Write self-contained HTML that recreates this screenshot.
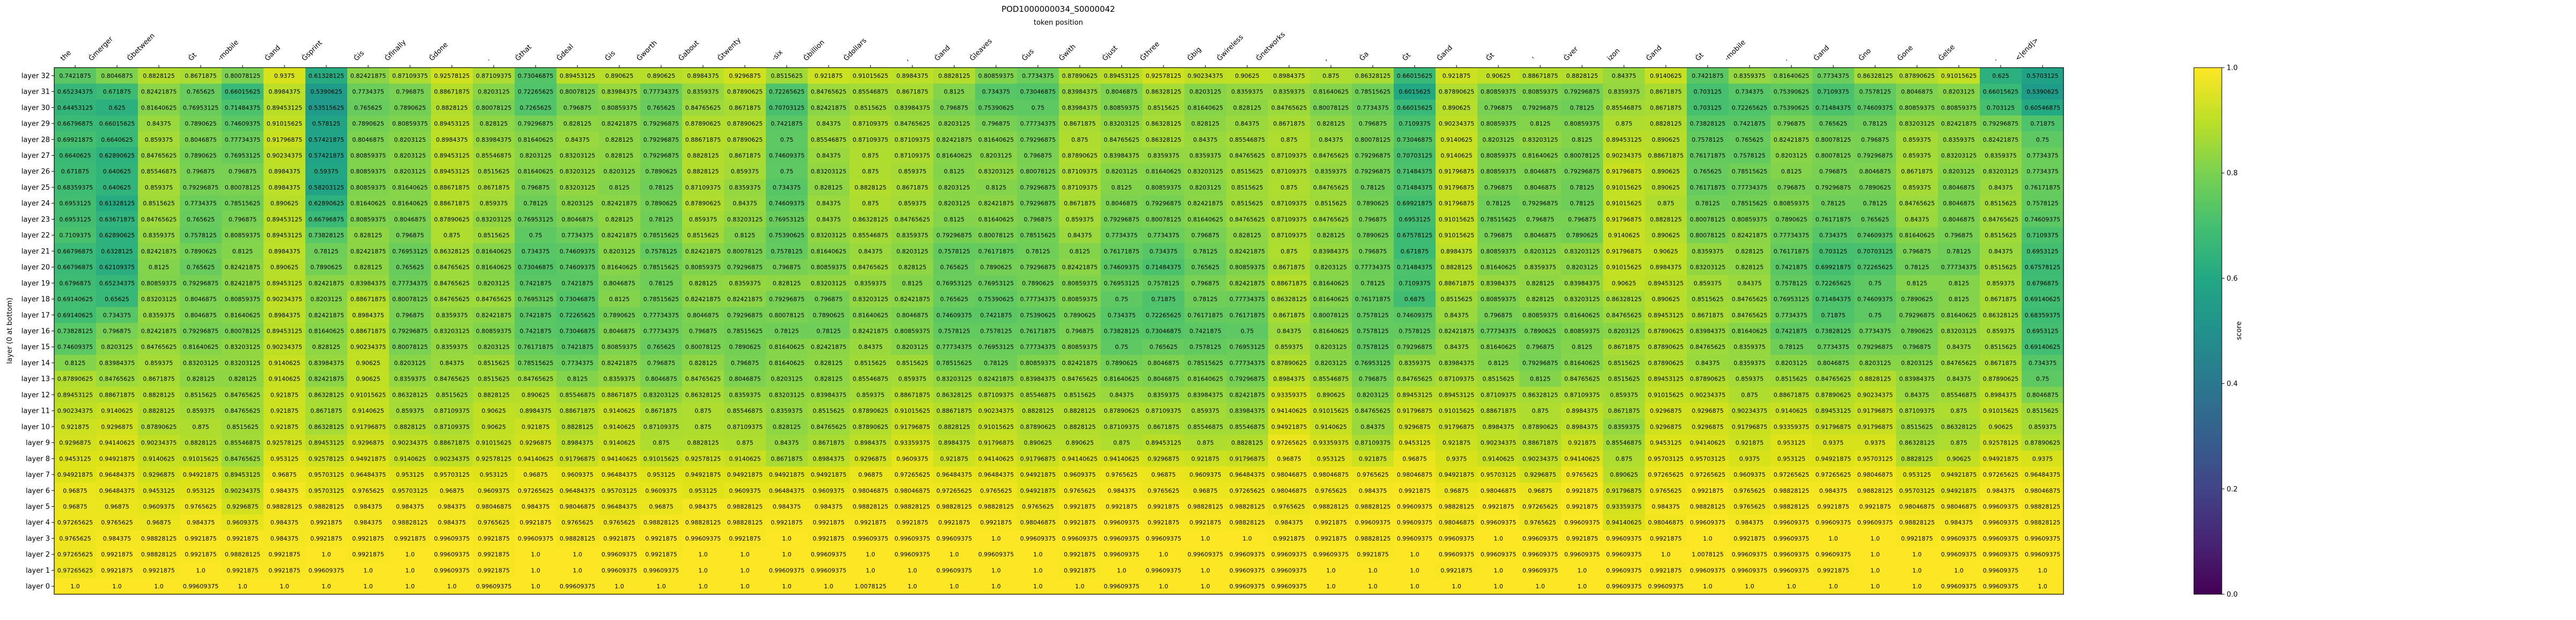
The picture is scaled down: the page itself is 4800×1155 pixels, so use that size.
<!DOCTYPE html>
<html><head><meta charset="utf-8">
<style>
html,body{margin:0;padding:0;background:#fff;}
svg{display:block;font-family:"DejaVu Sans","Liberation Sans",sans-serif;}
</style></head>
<body>
<svg id="chart" width="4800" height="1155" viewBox="0 0 4800 1155" xmlns="http://www.w3.org/2000/svg">
  <text x="1972" y="22" text-anchor="middle" font-size="15">POD1000000034_S0000042</text>
  <text x="1972" y="46" text-anchor="middle" font-size="13">token position</text>
  <text transform="translate(22,616) rotate(-90)" text-anchor="middle" font-size="13">layer (0 at bottom)</text>
  <g id="cells"></g>
  <g id="xlabels"></g>
  <g id="ylabels"></g>
  <rect x="101" y="126" width="3744" height="981" fill="none" stroke="#000" stroke-width="1.2"/>
  <defs>
    <linearGradient id="vir" x1="0" y1="1" x2="0" y2="0">
      <stop offset="0" stop-color="#440154"/><stop offset="0.1" stop-color="#482475"/>
      <stop offset="0.2" stop-color="#414487"/><stop offset="0.3" stop-color="#355f8d"/>
      <stop offset="0.4" stop-color="#2a788e"/><stop offset="0.5" stop-color="#21918c"/>
      <stop offset="0.6" stop-color="#22a884"/><stop offset="0.7" stop-color="#44bf70"/>
      <stop offset="0.8" stop-color="#7ad151"/><stop offset="0.9" stop-color="#bddf26"/>
      <stop offset="1" stop-color="#fde725"/>
    </linearGradient>
  </defs>
  <rect x="4088" y="126" width="52" height="981" fill="url(#vir)" stroke="#000" stroke-width="1"/>
  <g id="cbticks"></g>
  <text transform="translate(4176,616) rotate(-90)" text-anchor="middle" font-size="13">score</text>
</svg>
<script>
const tokens = ["the","Ġmerger","Ġbetween","Ġt","-mobile","Ġand","Ġsprint","Ġis","Ġfinally","Ġdone",".","Ġthat",
"Ġdeal","Ġis","Ġworth","Ġabout","Ġtwenty","-six","Ġbillion","Ġdollars",",","Ġand","Ġleaves","Ġus",
"Ġwith","Ġjust","Ġthree","Ġbig","Ġwireless","Ġnetworks",",","Ġa","Ġt","Ġand","Ġt","'",
"Ġver","izon","Ġand","Ġt","-mobile",".","Ġand","Ġno","Ġone","Ġelse",".","<|end|>"];
const layers = ["layer 32","layer 31","layer 30","layer 29","layer 28","layer 27","layer 26","layer 25","layer 24","layer 23","layer 22","layer 21","layer 20","layer 19","layer 18","layer 17","layer 16","layer 15","layer 14","layer 13","layer 12","layer 11","layer 10","layer 9","layer 8","layer 7","layer 6","layer 5","layer 4","layer 3","layer 2","layer 1","layer 0"];
const cbTickValues = [0.0,0.2,0.4,0.6,0.8,1.0];
const cbTickLabels = ["0.0","0.2","0.4","0.6","0.8","1.0"];
const rowsA = [
"0.7421875 0.8046875 0.8828125 0.8671875 0.80078125 0.9375 0.61328125 0.82421875 0.87109375 0.92578125 0.87109375 0.73046875",
"0.65234375 0.671875 0.82421875 0.765625 0.66015625 0.8984375 0.5390625 0.7734375 0.796875 0.88671875 0.8203125 0.72265625",
"0.64453125 0.625 0.81640625 0.76953125 0.71484375 0.89453125 0.53515625 0.765625 0.7890625 0.8828125 0.80078125 0.7265625",
"0.66796875 0.66015625 0.84375 0.7890625 0.74609375 0.91015625 0.578125 0.7890625 0.80859375 0.89453125 0.828125 0.79296875",
"0.69921875 0.6640625 0.859375 0.8046875 0.77734375 0.91796875 0.57421875 0.8046875 0.8203125 0.8984375 0.83984375 0.81640625",
"0.6640625 0.62890625 0.84765625 0.7890625 0.76953125 0.90234375 0.57421875 0.80859375 0.8203125 0.89453125 0.85546875 0.8203125",
"0.671875 0.640625 0.85546875 0.796875 0.796875 0.8984375 0.59375 0.80859375 0.8203125 0.89453125 0.8515625 0.81640625",
"0.68359375 0.640625 0.859375 0.79296875 0.80078125 0.8984375 0.58203125 0.80859375 0.81640625 0.88671875 0.8671875 0.796875",
"0.6953125 0.61328125 0.8515625 0.7734375 0.78515625 0.890625 0.62890625 0.81640625 0.81640625 0.88671875 0.859375 0.78125",
"0.6953125 0.63671875 0.84765625 0.765625 0.796875 0.89453125 0.66796875 0.80859375 0.8046875 0.87890625 0.83203125 0.76953125",
"0.7109375 0.62890625 0.8359375 0.7578125 0.80859375 0.89453125 0.73828125 0.828125 0.796875 0.875 0.8515625 0.75",
"0.66796875 0.6328125 0.82421875 0.7890625 0.8125 0.8984375 0.78125 0.82421875 0.76953125 0.86328125 0.81640625 0.734375",
"0.66796875 0.62109375 0.8125 0.765625 0.82421875 0.890625 0.7890625 0.828125 0.765625 0.84765625 0.81640625 0.73046875",
"0.6796875 0.65234375 0.80859375 0.79296875 0.82421875 0.89453125 0.82421875 0.83984375 0.77734375 0.84765625 0.8203125 0.7421875",
"0.69140625 0.65625 0.83203125 0.8046875 0.80859375 0.90234375 0.8203125 0.88671875 0.80078125 0.84765625 0.84765625 0.76953125",
"0.69140625 0.734375 0.8359375 0.8046875 0.81640625 0.8984375 0.82421875 0.8984375 0.796875 0.8359375 0.82421875 0.7421875",
"0.73828125 0.796875 0.82421875 0.79296875 0.80078125 0.89453125 0.81640625 0.88671875 0.79296875 0.83203125 0.80859375 0.7421875",
"0.74609375 0.8203125 0.84765625 0.81640625 0.83203125 0.90234375 0.828125 0.90234375 0.80078125 0.8359375 0.8203125 0.76171875",
"0.8125 0.83984375 0.859375 0.83203125 0.83203125 0.9140625 0.83984375 0.90625 0.8203125 0.84375 0.8515625 0.78515625",
"0.87890625 0.84765625 0.8671875 0.828125 0.828125 0.9140625 0.82421875 0.90625 0.8359375 0.84765625 0.8515625 0.84765625",
"0.89453125 0.88671875 0.8828125 0.8515625 0.84765625 0.921875 0.86328125 0.91015625 0.86328125 0.8515625 0.8828125 0.890625",
"0.90234375 0.9140625 0.8828125 0.859375 0.84765625 0.921875 0.8671875 0.9140625 0.859375 0.87109375 0.90625 0.8984375",
"0.921875 0.9296875 0.87890625 0.875 0.8515625 0.921875 0.86328125 0.91796875 0.8828125 0.87109375 0.90625 0.921875",
"0.9296875 0.94140625 0.90234375 0.8828125 0.85546875 0.92578125 0.89453125 0.9296875 0.90234375 0.88671875 0.91015625 0.9296875",
"0.9453125 0.94921875 0.9140625 0.91015625 0.84765625 0.953125 0.92578125 0.94921875 0.9140625 0.90234375 0.92578125 0.94140625",
"0.94921875 0.96484375 0.9296875 0.94921875 0.89453125 0.96875 0.95703125 0.96484375 0.953125 0.95703125 0.953125 0.96875",
"0.96875 0.96484375 0.9453125 0.953125 0.90234375 0.984375 0.95703125 0.9765625 0.95703125 0.96875 0.9609375 0.97265625",
"0.96875 0.96875 0.9609375 0.9765625 0.9296875 0.98828125 0.98828125 0.984375 0.984375 0.984375 0.98046875 0.984375",
"0.97265625 0.9765625 0.96875 0.984375 0.9609375 0.984375 0.9921875 0.984375 0.98828125 0.984375 0.9765625 0.9921875",
"0.9765625 0.984375 0.98828125 0.9921875 0.9921875 0.984375 0.9921875 0.9921875 0.9921875 0.99609375 0.9921875 0.99609375",
"0.97265625 0.9921875 0.98828125 0.9921875 0.98828125 0.9921875 1.0 0.9921875 1.0 0.99609375 0.9921875 1.0",
"0.97265625 0.9921875 0.9921875 1.0 0.9921875 0.9921875 0.99609375 1.0 1.0 0.99609375 0.9921875 1.0",
"1.0 1.0 1.0 0.99609375 1.0 1.0 1.0 1.0 1.0 1.0 0.99609375 1.0"];
const rowsB = [
"0.89453125 0.890625 0.890625 0.8984375 0.9296875 0.8515625 0.921875 0.91015625 0.8984375 0.8828125 0.80859375 0.7734375",
"0.80078125 0.83984375 0.77734375 0.8359375 0.87890625 0.72265625 0.84765625 0.85546875 0.8671875 0.8125 0.734375 0.73046875",
"0.796875 0.80859375 0.765625 0.84765625 0.8671875 0.70703125 0.82421875 0.8515625 0.83984375 0.796875 0.75390625 0.75",
"0.828125 0.82421875 0.79296875 0.87890625 0.87890625 0.7421875 0.84375 0.87109375 0.84765625 0.8203125 0.796875 0.77734375",
"0.84375 0.828125 0.79296875 0.88671875 0.87890625 0.75 0.85546875 0.87109375 0.87109375 0.82421875 0.81640625 0.79296875",
"0.83203125 0.828125 0.79296875 0.8828125 0.8671875 0.74609375 0.84375 0.875 0.87109375 0.81640625 0.8203125 0.796875",
"0.83203125 0.8203125 0.7890625 0.8828125 0.859375 0.75 0.83203125 0.875 0.859375 0.8125 0.83203125 0.80078125",
"0.83203125 0.8125 0.78125 0.87109375 0.8359375 0.734375 0.828125 0.8828125 0.8671875 0.8203125 0.8125 0.79296875",
"0.8203125 0.82421875 0.7890625 0.87890625 0.84375 0.74609375 0.84375 0.875 0.859375 0.8203125 0.82421875 0.79296875",
"0.8046875 0.828125 0.78125 0.859375 0.83203125 0.76953125 0.84375 0.86328125 0.84765625 0.8125 0.81640625 0.796875",
"0.7734375 0.82421875 0.78515625 0.8515625 0.8125 0.75390625 0.83203125 0.85546875 0.8359375 0.79296875 0.80078125 0.78515625",
"0.74609375 0.8203125 0.7578125 0.82421875 0.80078125 0.7578125 0.81640625 0.84375 0.8203125 0.7578125 0.76171875 0.78125",
"0.74609375 0.81640625 0.78515625 0.80859375 0.79296875 0.796875 0.80859375 0.84765625 0.828125 0.765625 0.7890625 0.79296875",
"0.7421875 0.8046875 0.78125 0.828125 0.8359375 0.828125 0.83203125 0.8359375 0.8125 0.76953125 0.76953125 0.7890625",
"0.73046875 0.8125 0.78515625 0.82421875 0.82421875 0.79296875 0.796875 0.83203125 0.82421875 0.765625 0.75390625 0.77734375",
"0.72265625 0.7890625 0.77734375 0.8046875 0.79296875 0.80078125 0.7890625 0.81640625 0.8046875 0.74609375 0.7421875 0.75390625",
"0.73046875 0.8046875 0.77734375 0.796875 0.78515625 0.78125 0.78125 0.82421875 0.80859375 0.7578125 0.7578125 0.76171875",
"0.7421875 0.80859375 0.765625 0.80078125 0.7890625 0.81640625 0.82421875 0.84375 0.8203125 0.77734375 0.76953125 0.77734375",
"0.7734375 0.82421875 0.796875 0.828125 0.796875 0.81640625 0.828125 0.8515625 0.8515625 0.78515625 0.78125 0.80859375",
"0.8125 0.8359375 0.8046875 0.84765625 0.8046875 0.8203125 0.828125 0.85546875 0.859375 0.83203125 0.82421875 0.83984375",
"0.85546875 0.88671875 0.83203125 0.86328125 0.8359375 0.83203125 0.83984375 0.859375 0.88671875 0.86328125 0.87109375 0.85546875",
"0.88671875 0.9140625 0.8671875 0.875 0.85546875 0.8359375 0.8515625 0.87890625 0.91015625 0.88671875 0.90234375 0.8828125",
"0.8828125 0.9140625 0.87109375 0.875 0.87109375 0.828125 0.84765625 0.87890625 0.91796875 0.8828125 0.91015625 0.87890625",
"0.8984375 0.9140625 0.875 0.8828125 0.875 0.84375 0.8671875 0.8984375 0.93359375 0.8984375 0.91796875 0.890625",
"0.91796875 0.94140625 0.91015625 0.92578125 0.9140625 0.8671875 0.8984375 0.9296875 0.9609375 0.921875 0.94140625 0.91796875",
"0.9609375 0.96484375 0.953125 0.94921875 0.94921875 0.94921875 0.94921875 0.96875 0.97265625 0.96484375 0.96484375 0.94921875",
"0.96484375 0.95703125 0.9609375 0.953125 0.9609375 0.96484375 0.9609375 0.98046875 0.98046875 0.97265625 0.9765625 0.94921875",
"0.98046875 0.96484375 0.96875 0.984375 0.98828125 0.984375 0.984375 0.98828125 0.98828125 0.98828125 0.98828125 0.9765625",
"0.9765625 0.9765625 0.98828125 0.98828125 0.98828125 0.9921875 0.9921875 0.9921875 0.9921875 0.9921875 0.9921875 0.98046875",
"0.98828125 0.9921875 0.9921875 0.99609375 0.9921875 1.0 0.9921875 0.99609375 0.99609375 0.99609375 1.0 0.99609375",
"1.0 0.99609375 0.9921875 1.0 1.0 1.0 0.99609375 1.0 0.99609375 1.0 0.99609375 1.0",
"1.0 0.99609375 0.99609375 1.0 1.0 0.99609375 0.99609375 1.0 1.0 0.99609375 1.0 1.0",
"0.99609375 1.0 1.0 1.0 1.0 1.0 1.0 1.0078125 1.0 1.0 1.0 1.0"];
const rowsC = [
"0.87890625 0.89453125 0.92578125 0.90234375 0.90625 0.8984375 0.875 0.86328125 0.66015625 0.921875 0.90625 0.88671875",
"0.83984375 0.8046875 0.86328125 0.8203125 0.8359375 0.8359375 0.81640625 0.78515625 0.6015625 0.87890625 0.80859375 0.80859375",
"0.83984375 0.80859375 0.8515625 0.81640625 0.828125 0.84765625 0.80078125 0.7734375 0.66015625 0.890625 0.796875 0.79296875",
"0.8671875 0.83203125 0.86328125 0.828125 0.84375 0.8671875 0.828125 0.796875 0.7109375 0.90234375 0.80859375 0.8125",
"0.875 0.84765625 0.86328125 0.84375 0.85546875 0.875 0.84375 0.80078125 0.73046875 0.9140625 0.8203125 0.83203125",
"0.87890625 0.83984375 0.8359375 0.8359375 0.84765625 0.87109375 0.84765625 0.79296875 0.70703125 0.9140625 0.80859375 0.81640625",
"0.87109375 0.8203125 0.81640625 0.83203125 0.8515625 0.87109375 0.8359375 0.79296875 0.71484375 0.91796875 0.80859375 0.8046875",
"0.87109375 0.8125 0.80859375 0.8203125 0.8515625 0.875 0.84765625 0.78125 0.71484375 0.91796875 0.796875 0.8046875",
"0.8671875 0.8046875 0.79296875 0.82421875 0.8515625 0.87109375 0.8515625 0.7890625 0.69921875 0.91796875 0.78125 0.79296875",
"0.859375 0.79296875 0.80078125 0.81640625 0.84765625 0.87109375 0.84765625 0.796875 0.6953125 0.91015625 0.78515625 0.796875",
"0.84375 0.7734375 0.7734375 0.796875 0.828125 0.87109375 0.828125 0.7890625 0.67578125 0.91015625 0.796875 0.8046875",
"0.8125 0.76171875 0.734375 0.78125 0.82421875 0.875 0.83984375 0.796875 0.671875 0.8984375 0.80859375 0.8203125",
"0.82421875 0.74609375 0.71484375 0.765625 0.80859375 0.8671875 0.8203125 0.77734375 0.71484375 0.8828125 0.81640625 0.8359375",
"0.80859375 0.76953125 0.7578125 0.796875 0.82421875 0.88671875 0.81640625 0.78125 0.7109375 0.88671875 0.83984375 0.828125",
"0.80859375 0.75 0.71875 0.78125 0.77734375 0.86328125 0.81640625 0.76171875 0.6875 0.8515625 0.80859375 0.828125",
"0.7890625 0.734375 0.72265625 0.76171875 0.76171875 0.8671875 0.80078125 0.7578125 0.74609375 0.84375 0.796875 0.80859375",
"0.796875 0.73828125 0.73046875 0.7421875 0.75 0.84375 0.81640625 0.7578125 0.7578125 0.82421875 0.77734375 0.7890625",
"0.80859375 0.75 0.765625 0.7578125 0.76953125 0.859375 0.8203125 0.7578125 0.79296875 0.84375 0.81640625 0.796875",
"0.82421875 0.7890625 0.8046875 0.78515625 0.77734375 0.87890625 0.8203125 0.76953125 0.8359375 0.83984375 0.8125 0.79296875",
"0.84765625 0.81640625 0.8046875 0.81640625 0.79296875 0.8984375 0.85546875 0.796875 0.84765625 0.87109375 0.8515625 0.8125",
"0.8515625 0.84375 0.8359375 0.83984375 0.82421875 0.93359375 0.890625 0.8203125 0.89453125 0.89453125 0.87109375 0.86328125",
"0.8828125 0.87890625 0.87109375 0.859375 0.83984375 0.94140625 0.91015625 0.84765625 0.91796875 0.91015625 0.88671875 0.875",
"0.8828125 0.87109375 0.8671875 0.85546875 0.85546875 0.94921875 0.9140625 0.84375 0.9296875 0.91796875 0.8984375 0.87890625",
"0.890625 0.875 0.89453125 0.875 0.8828125 0.97265625 0.93359375 0.87109375 0.9453125 0.921875 0.90234375 0.88671875",
"0.94140625 0.94140625 0.9296875 0.921875 0.91796875 0.96875 0.953125 0.921875 0.96875 0.9375 0.9140625 0.90234375",
"0.9609375 0.9765625 0.96875 0.9609375 0.96484375 0.98046875 0.98046875 0.9765625 0.98046875 0.94921875 0.95703125 0.9296875",
"0.9765625 0.984375 0.9765625 0.96875 0.97265625 0.98046875 0.9765625 0.984375 0.9921875 0.96875 0.98046875 0.96875",
"0.9921875 0.9921875 0.9921875 0.98828125 0.98828125 0.9765625 0.98828125 0.98828125 0.99609375 0.98828125 0.9921875 0.97265625",
"0.9921875 0.99609375 0.9921875 0.9921875 0.98828125 0.984375 0.9921875 0.99609375 0.99609375 0.98046875 0.99609375 0.9765625",
"0.99609375 0.99609375 0.99609375 1.0 1.0 0.9921875 0.9921875 0.98828125 0.99609375 0.99609375 1.0 0.99609375",
"0.9921875 0.99609375 1.0 0.99609375 0.99609375 0.99609375 0.99609375 0.9921875 1.0 0.99609375 0.99609375 0.99609375",
"0.9921875 1.0 0.99609375 1.0 0.99609375 0.99609375 1.0 1.0 1.0 0.9921875 1.0 0.99609375",
"1.0 0.99609375 1.0 1.0 0.99609375 0.99609375 1.0 1.0 1.0 1.0 1.0 1.0"];
const rowsD = [
"0.8828125 0.84375 0.9140625 0.7421875 0.8359375 0.81640625 0.7734375 0.86328125 0.87890625 0.91015625 0.625 0.5703125",
"0.79296875 0.8359375 0.8671875 0.703125 0.734375 0.75390625 0.7109375 0.7578125 0.8046875 0.8203125 0.66015625 0.5390625",
"0.78125 0.85546875 0.8671875 0.703125 0.72265625 0.75390625 0.71484375 0.74609375 0.80859375 0.80859375 0.703125 0.60546875",
"0.80859375 0.875 0.8828125 0.73828125 0.7421875 0.796875 0.765625 0.78125 0.83203125 0.82421875 0.79296875 0.71875",
"0.8125 0.89453125 0.890625 0.7578125 0.765625 0.82421875 0.80078125 0.796875 0.859375 0.8359375 0.82421875 0.75",
"0.80078125 0.90234375 0.88671875 0.76171875 0.7578125 0.8203125 0.80078125 0.79296875 0.859375 0.83203125 0.8359375 0.7734375",
"0.79296875 0.91796875 0.890625 0.765625 0.78515625 0.8125 0.796875 0.8046875 0.8671875 0.8203125 0.83203125 0.7734375",
"0.78125 0.91015625 0.890625 0.76171875 0.77734375 0.796875 0.79296875 0.7890625 0.859375 0.8046875 0.84375 0.76171875",
"0.78125 0.91015625 0.875 0.78125 0.78515625 0.80859375 0.78125 0.78125 0.84765625 0.8046875 0.8515625 0.7578125",
"0.796875 0.91796875 0.8828125 0.80078125 0.80859375 0.7890625 0.76171875 0.765625 0.84375 0.8046875 0.84765625 0.74609375",
"0.7890625 0.9140625 0.890625 0.80078125 0.82421875 0.77734375 0.734375 0.74609375 0.81640625 0.796875 0.8515625 0.7109375",
"0.83203125 0.91796875 0.90625 0.8359375 0.828125 0.76171875 0.703125 0.70703125 0.796875 0.78125 0.84375 0.6953125",
"0.8203125 0.91015625 0.8984375 0.83203125 0.828125 0.7421875 0.69921875 0.72265625 0.78125 0.77734375 0.8515625 0.67578125",
"0.83984375 0.90625 0.89453125 0.859375 0.84375 0.7578125 0.72265625 0.75 0.8125 0.8125 0.859375 0.6796875",
"0.83203125 0.86328125 0.890625 0.8515625 0.84765625 0.76953125 0.71484375 0.74609375 0.7890625 0.8125 0.8671875 0.69140625",
"0.81640625 0.84765625 0.89453125 0.8671875 0.84765625 0.7734375 0.71875 0.75 0.79296875 0.81640625 0.86328125 0.68359375",
"0.80859375 0.8203125 0.87890625 0.83984375 0.81640625 0.7421875 0.73828125 0.7734375 0.7890625 0.83203125 0.859375 0.6953125",
"0.8125 0.8671875 0.87890625 0.84765625 0.8359375 0.78125 0.7734375 0.79296875 0.796875 0.84375 0.8515625 0.69140625",
"0.81640625 0.8515625 0.87890625 0.84375 0.8359375 0.8203125 0.8046875 0.8203125 0.8203125 0.84765625 0.8671875 0.734375",
"0.84765625 0.8515625 0.89453125 0.87890625 0.859375 0.8515625 0.84765625 0.8828125 0.83984375 0.84375 0.87890625 0.75",
"0.87109375 0.859375 0.91015625 0.90234375 0.875 0.88671875 0.87890625 0.90234375 0.84375 0.85546875 0.8984375 0.8046875",
"0.8984375 0.8671875 0.9296875 0.9296875 0.90234375 0.9140625 0.89453125 0.91796875 0.87109375 0.875 0.91015625 0.8515625",
"0.8984375 0.8359375 0.9296875 0.9296875 0.91796875 0.93359375 0.91796875 0.91796875 0.8515625 0.86328125 0.90625 0.859375",
"0.921875 0.85546875 0.9453125 0.94140625 0.921875 0.953125 0.9375 0.9375 0.86328125 0.875 0.92578125 0.87890625",
"0.94140625 0.875 0.95703125 0.95703125 0.9375 0.953125 0.94921875 0.95703125 0.8828125 0.90625 0.94921875 0.9375",
"0.9765625 0.890625 0.97265625 0.97265625 0.9609375 0.97265625 0.97265625 0.98046875 0.953125 0.94921875 0.97265625 0.96484375",
"0.9921875 0.91796875 0.9765625 0.9921875 0.9765625 0.98828125 0.984375 0.98828125 0.95703125 0.94921875 0.984375 0.98046875",
"0.9921875 0.93359375 0.984375 0.98828125 0.9765625 0.98828125 0.9921875 0.9921875 0.98046875 0.98046875 0.99609375 0.98828125",
"0.99609375 0.94140625 0.98046875 0.99609375 0.984375 0.99609375 0.99609375 0.99609375 0.98828125 0.984375 0.99609375 0.98828125",
"0.9921875 0.99609375 0.9921875 1.0 0.9921875 0.99609375 1.0 1.0 0.9921875 0.99609375 0.99609375 0.99609375",
"0.99609375 0.99609375 1.0 1.0078125 0.99609375 0.99609375 0.99609375 1.0 1.0 0.99609375 0.99609375 0.99609375",
"1.0 0.99609375 0.9921875 0.99609375 0.99609375 0.99609375 0.9921875 1.0 1.0 1.0 0.99609375 1.0",
"1.0 0.99609375 0.99609375 1.0 1.0 1.0 1.0 1.0 1.0 0.99609375 0.99609375 1.0"];

const NS = "http://www.w3.org/2000/svg";
const PX0 = 101, PX1 = 3845, PY0 = 126, PY1 = 1107;
const nCols = tokens.length, nRows = layers.length;
const cw = (PX1 - PX0) / nCols, rh = (PY1 - PY0) / nRows;
function xScale(i){ return PX0 + i * cw; }
function yScale(r){ return PY0 + r * rh; }
function cbScale(v){ return PY1 - v * (PY1 - PY0); }
const vstops = [[0,[68,1,84]],[0.1,[72,36,117]],[0.2,[65,68,135]],[0.3,[53,95,141]],[0.4,[42,120,142]],[0.5,[33,145,140]],[0.55,[31,158,137]],[0.6,[34,168,132]],[0.65,[53,183,121]],[0.7,[68,191,112]],[0.75,[94,201,98]],[0.8,[122,209,81]],[0.85,[159,218,58]],[0.9,[189,223,38]],[0.95,[223,227,24]],[1,[253,231,37]]];
function viridis(v){
  v = Math.max(0, Math.min(1, v));
  for (let k = 1; k < vstops.length; k++) {
    if (v <= vstops[k][0]) {
      const a = vstops[k-1], b = vstops[k], t = (v - a[0]) / (b[0] - a[0]);
      const c = a[1].map((x, j) => Math.round(x + (b[1][j] - x) * t));
      return "rgb(" + c.join(",") + ")";
    }
  }
  return "rgb(253,231,37)";
}
function fmt(v){ return Number.isInteger(v) ? v.toFixed(1) : String(v); }
const values = layers.map((_, r) =>
  (rowsA[r] + " " + rowsB[r] + " " + rowsC[r] + " " + rowsD[r]).trim().split(/\s+/).map(Number));

const cellsG = document.getElementById("cells");
values.forEach((row, r) => {
  row.forEach((v, c) => {
    const rect = document.createElementNS(NS, "rect");
    rect.setAttribute("x", xScale(c)); rect.setAttribute("y", yScale(r));
    rect.setAttribute("width", cw + 0.6); rect.setAttribute("height", rh + 0.6);
    rect.setAttribute("fill", viridis(v));
    
    
    cellsG.appendChild(rect);
    const t = document.createElementNS(NS, "text");
    t.setAttribute("x", xScale(c) + cw / 2); t.setAttribute("y", yScale(r) + rh / 2 + 4);
    t.setAttribute("text-anchor", "middle"); t.setAttribute("font-size", "11");
    t.textContent = fmt(v);
    
    
    cellsG.appendChild(t);
  });
});

const xl = document.getElementById("xlabels");
tokens.forEach((tok, c) => {
  const cx = xScale(c) + cw / 2;
  const tick = document.createElementNS(NS, "line");
  tick.setAttribute("x1", cx); tick.setAttribute("x2", cx);
  tick.setAttribute("y1", PY0); tick.setAttribute("y2", PY0 - 5);
  tick.setAttribute("stroke", "#000");
  
  
  xl.appendChild(tick);
  const t = document.createElementNS(NS, "text");
  t.setAttribute("text-anchor", "start"); t.setAttribute("font-size", "13");
  t.textContent = tok;
  
  
  xl.appendChild(t);
  const L = t.getComputedTextLength();
  const x0 = cx - L * 0.7071 - 7;
  const y0 = PY0 - 12;
  t.setAttribute("transform", "translate(" + x0 + "," + y0 + ") rotate(-45)");
});

const yl = document.getElementById("ylabels");
layers.forEach((lab, r) => {
  const cy = yScale(r) + rh / 2;
  const tick = document.createElementNS(NS, "line");
  tick.setAttribute("x1", PX0); tick.setAttribute("x2", PX0 - 5);
  tick.setAttribute("y1", cy); tick.setAttribute("y2", cy);
  tick.setAttribute("stroke", "#000");
  
  
  yl.appendChild(tick);
  const t = document.createElementNS(NS, "text");
  t.setAttribute("x", PX0 - 8); t.setAttribute("y", cy + 4.5);
  t.setAttribute("text-anchor", "end"); t.setAttribute("font-size", "13");
  t.textContent = lab;
  
  
  yl.appendChild(t);
});

const cbg = document.getElementById("cbticks");
cbTickValues.forEach((v, i) => {
  const y = cbScale(v);
  const tick = document.createElementNS(NS, "line");
  tick.setAttribute("x1", 4140); tick.setAttribute("x2", 4145);
  tick.setAttribute("y1", y); tick.setAttribute("y2", y);
  tick.setAttribute("stroke", "#000");
  
  
  cbg.appendChild(tick);
  const t = document.createElementNS(NS, "text");
  t.setAttribute("x", 4149); t.setAttribute("y", y + 4.5);
  t.setAttribute("font-size", "13");
  t.textContent = cbTickLabels[i];
  
  
  cbg.appendChild(t);
});
</script>
</body></html>
